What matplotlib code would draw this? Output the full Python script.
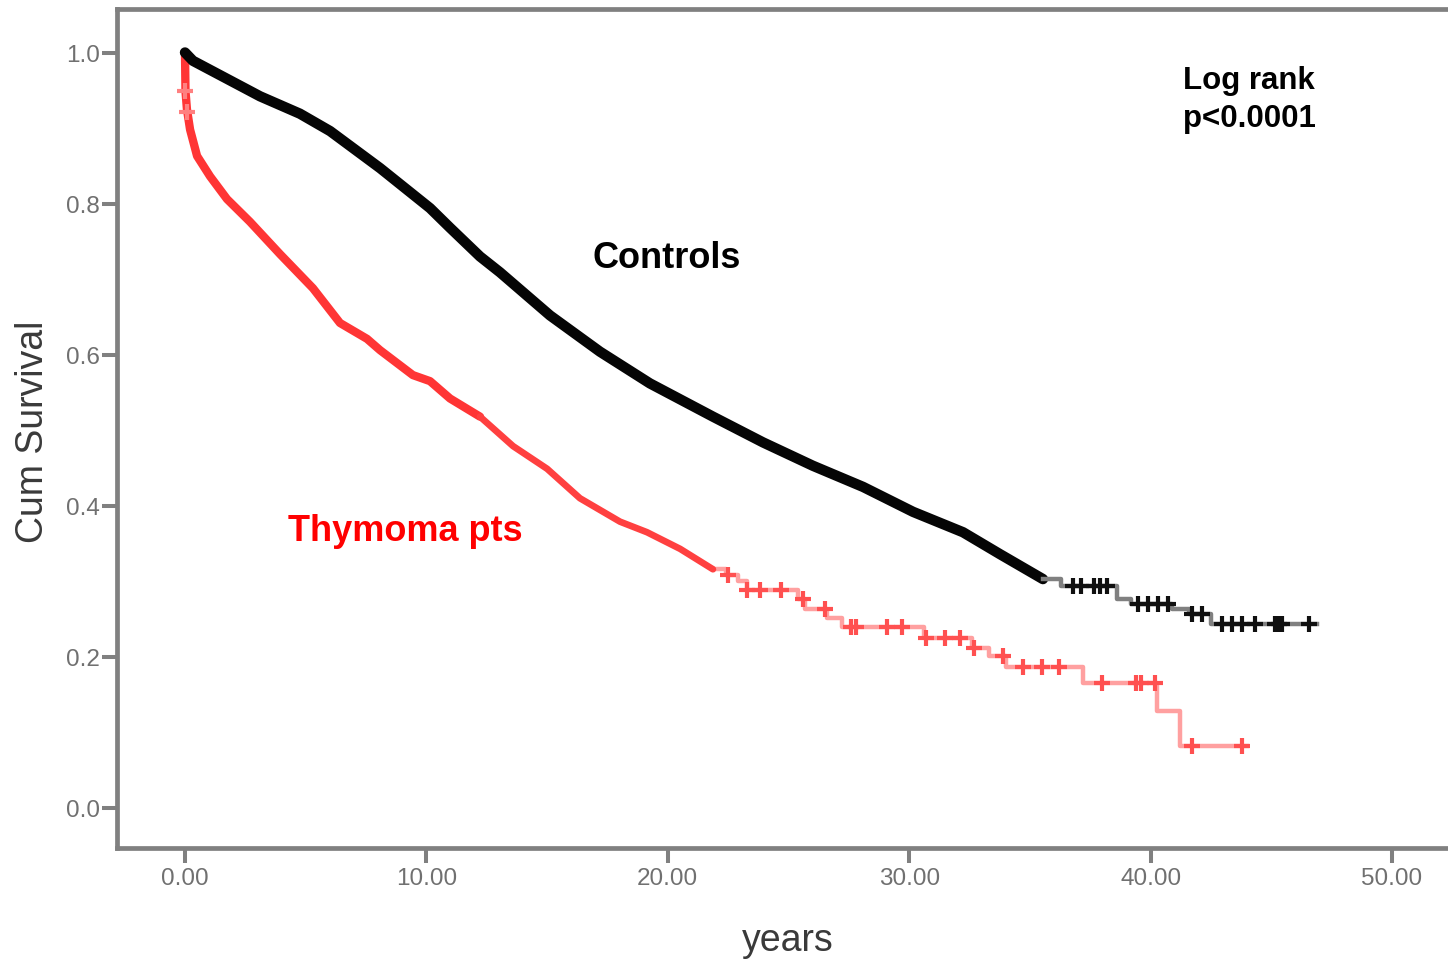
import numpy as np
import matplotlib
matplotlib.use('Agg')
import matplotlib.pyplot as plt

plt.rcParams['font.family'] = ['Liberation Sans', 'DejaVu Sans']

# ---------------- data ----------------
# Controls: densely censored part (drawn as a thick band)
ctrl_dense_t = [0.0, 0.33, 3.11, 4.76, 6.01, 8.08, 10.15, 10.98, 12.22, 13.05, 15.12,
                17.19, 19.26, 21.87, 23.94, 26.01, 28.09, 30.16, 32.23, 33.76, 35.54]
ctrl_dense_s = [1.0, 0.989, 0.942, 0.919, 0.896, 0.847, 0.794, 0.768, 0.730, 0.709, 0.652,
                0.604, 0.562, 0.518, 0.484, 0.453, 0.425, 0.392, 0.365, 0.336, 0.303]
# Controls: sparse tail (step function)
ctrl_step_t = [35.54, 36.3, 38.6, 39.2, 40.9, 41.6, 42.5, 46.9]
ctrl_step_s = [0.303, 0.294, 0.277, 0.270, 0.263, 0.257, 0.244, 0.244]
ctrl_censor_t = [36.8, 37.1, 37.65, 37.9, 38.2, 39.48, 39.89, 40.31, 40.72, 41.71, 42.13,
                 42.96, 43.37, 43.79, 44.32, 45.15, 45.3, 45.44, 46.56]

# Thymoma patients: dense part
thy_dense_t = [0.0, 0.02, 0.08, 0.21, 0.50, 1.04, 1.74, 2.69, 3.94, 5.30, 6.42, 7.54,
               8.08, 9.44, 10.15, 10.98, 12.22]
thy_dense_s = [1.0, 0.949, 0.925, 0.898, 0.863, 0.836, 0.806, 0.776, 0.733, 0.688, 0.642,
               0.621, 0.606, 0.573, 0.565, 0.542, 0.518]
thy_mid_t = [12.22, 13.59, 15.00, 16.36, 18.02, 19.14, 20.51, 21.87]
thy_mid_s = [0.518, 0.479, 0.449, 0.410, 0.379, 0.365, 0.343, 0.316]
# Thymoma patients: sparse tail (step function)
thy_step_t = [21.87, 22.4, 22.9, 23.3, 25.4, 25.7, 26.6, 27.2, 30.6, 32.6, 33.3, 34.0,
              37.2, 40.25, 41.2, 44.0]
thy_step_s = [0.316, 0.309, 0.300, 0.288, 0.276, 0.263, 0.252, 0.240, 0.225, 0.212, 0.201,
              0.186, 0.166, 0.128, 0.082, 0.082]
thy_censor_early_t = [0.02, 0.10]
thy_censor_t = [22.5, 23.3, 23.8, 24.7, 25.6, 26.5, 27.6, 27.8, 29.1, 29.7, 30.7, 31.5,
                32.1, 32.7, 33.9, 34.7, 35.5, 36.2, 38.0, 39.4, 39.6, 40.2, 41.7, 43.8]

x_ticks = [0, 10, 20, 30, 40, 50]
y_ticks = [0.0, 0.2, 0.4, 0.6, 0.8, 1.0]


def step_value(T, S, t):
    T = np.asarray(T)
    S = np.asarray(S)
    idx = np.searchsorted(T, t, side='right') - 1
    idx = np.clip(idx, 0, len(S) - 1)
    return S[idx]


# ---------------- figure ----------------
W, H = 1448, 962
fig = plt.figure(figsize=(W / 100, H / 100), dpi=100)
ax = fig.add_axes([116.5 / W, (H - 849) / H, (1460 - 116.5) / W, (849 - 9.5) / H])

gray = '#808080'

# Thymoma
ax.plot(thy_dense_t, thy_dense_s, color='#ff3535', lw=6.0, solid_capstyle='round',
        solid_joinstyle='round', zorder=3)
ax.plot(thy_mid_t, thy_mid_s, color='#ff4040', lw=4.8, solid_capstyle='round',
        solid_joinstyle='round', zorder=3)
ax.step(thy_step_t, thy_step_s, where='post', color='#ffa0a0', lw=3.2, zorder=2)
ax.plot(thy_censor_t, step_value(thy_step_t, thy_step_s, thy_censor_t), ls='none',
        marker='+', ms=12, mew=3, color='#ff5050', zorder=3)
ax.plot(thy_censor_early_t, np.interp(thy_censor_early_t, thy_dense_t, thy_dense_s), ls='none',
        marker='+', ms=12, mew=3, color='#ff8080', zorder=3)

# Controls
ax.plot(ctrl_dense_t, ctrl_dense_s, color='#050505', lw=7.5, solid_capstyle='round',
        solid_joinstyle='round', zorder=4)
ax.step(ctrl_step_t, ctrl_step_s, where='post', color=gray, lw=3.2, zorder=4)
ax.plot(ctrl_censor_t, step_value(ctrl_step_t, ctrl_step_s, ctrl_censor_t), ls='none',
        marker='+', ms=12, mew=3, color='#101010', zorder=5)

# axes styling
ax.set_xlim((116.5 - 185) / 24.14, (1460 - 185) / 24.14)
ax.set_ylim((809 - 849) / 755.5, (809 - 9.5) / 755.5)
for side in ['left', 'bottom', 'top', 'right']:
    ax.spines[side].set_color(gray)
    ax.spines[side].set_linewidth(3.4)
ax.set_xticks(x_ticks)
ax.set_xticklabels(['%.2f' % v for v in x_ticks])
ax.set_yticks(y_ticks)
ax.set_yticklabels(['%.1f' % v for v in y_ticks])
ax.tick_params(direction='out', length=10.8, width=2.9, color=gray, labelcolor='#707070',
               labelsize=17.5)
ax.tick_params(axis='x', pad=3)
ax.tick_params(axis='y', pad=1)

# axis labels
fig.text(33 / W, 1 - 432 / H, 'Cum Survival', rotation=90, ha='center', va='center',
         fontsize=27, color='#3a3a3a')
fig.text(788 / W, 1 - 941 / H, 'years', ha='center', va='center', fontsize=27,
         color='#3a3a3a')

# annotations
fig.text(592 / W, 1 - 268 / H, 'Controls', ha='left', va='baseline', fontsize=26,
         fontweight='bold', color='black')
fig.text(288 / W, 1 - 541 / H, 'Thymoma pts', ha='left', va='baseline', fontsize=26,
         fontweight='bold', color='#ff0000')
fig.text(1183 / W, 1 - 89 / H, 'Log rank', ha='left', va='baseline', fontsize=22.5,
         fontweight='bold', color='black')
fig.text(1183 / W, 1 - 127 / H, 'p<0.0001', ha='left', va='baseline', fontsize=22.5,
         fontweight='bold', color='black')

fig.savefig('out.png', dpi=100)
